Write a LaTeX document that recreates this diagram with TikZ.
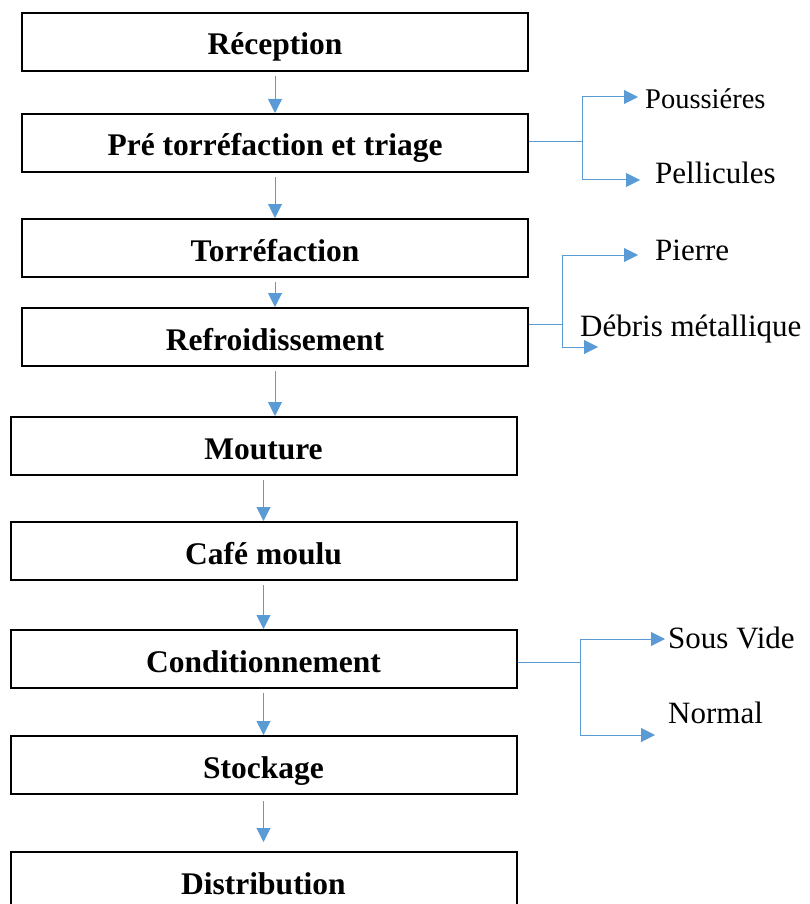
\documentclass[tikz,border=0pt]{standalone}
\usepackage{fontspec}
\setmainfont{Liberation Serif}
\usepackage{tikz}
\usetikzlibrary{arrows.meta, positioning}
\definecolor{flowBlue}{HTML}{5B9BD5}

\begin{document}
\begin{tikzpicture}[x=1pt, y=-1pt,
  stage/.style={draw=black, line width=2pt, minimum width=506pt, minimum height=58pt, inner sep=0pt,
    text height=26pt, text depth=0pt, font=\fontsize{31.5}{34}\selectfont\bfseries},
  lbl/.style={anchor=base west, inner sep=0pt, font=\fontsize{31}{34}\selectfont},
  e/.style={-{Triangle[length=14pt, width=14pt]}, flowBlue, line width=1pt},
  br/.style={flowBlue, line width=1pt}]
  \useasboundingbox (0,0) rectangle (809,904);
  \node[stage](rec) at (275,42){Réception};
  \node[stage, below=41pt of rec](pre){Pré torréfaction et triage};
  \node[stage, below=45pt of pre](tor){Torréfaction};
  \node[stage, below=29pt of tor](ref){Refroidissement};
  \node[stage, below=49pt of ref, xshift=-11.5pt](mou){Mouture};
  \node[stage, below=45pt of mou](caf){Café moulu};
  \node[stage, below=48pt of caf](con){Conditionnement};
  \node[stage, below=46pt of con](sto){Stockage};
  \node[stage, below=56pt of sto](dis){Distribution};
  \draw[e, shorten <=4pt](rec)--(pre); \draw[e, shorten <=4pt](pre)--(tor);
  \draw[e, shorten <=4pt](tor)--(ref); \draw[e, shorten <=4pt](ref.south)--(ref.south |- mou.north);
  \draw[e, shorten <=4pt](mou)--(caf); \draw[e, shorten <=4pt](caf)--(con);
  \draw[e, shorten <=4pt](con)--(sto); \draw[e, shorten <=6pt, shorten >=9pt](sto)--(dis);
  % sorties
  \node[lbl](pous) at (645,109){\fontsize{28.5}{34}\selectfont Poussiéres};
  \node[lbl](pell) at (655,183){Pellicules};
  \node[lbl](pier) at (655,260){Pierre};
  \node[lbl](deb) at (580,336){Débris métallique};
  \node[lbl](sv) at (668,648){Sous Vide};
  \node[lbl](nor) at (668,723){Normal};
  \coordinate (ja) at (582,142);
  \coordinate (ja1) at (582,97); \coordinate (ja2) at (582,180);
  \coordinate (ta1) at (638,97); \coordinate (ta2) at (640,180);
  \coordinate (jb) at (562,324);
  \coordinate (jb1) at (562,255); \coordinate (jb2) at (562,347);
  \coordinate (tb1) at (638,255); \coordinate (tb2) at (598,347);
  \coordinate (jc) at (580,662);
  \coordinate (jc1) at (580,639); \coordinate (jc2) at (580,735);
  \coordinate (tc1) at (665,639); \coordinate (tc2) at (655,735);
  \draw[br](pre.east |- ja)--(ja) (ja1)--(ja2);
  \draw[e](ja1)--(ta1); \draw[e](ja2)--(ta2);
  \draw[br](ref.east |- jb)--(jb) (jb1)--(jb2);
  \draw[e](jb1)--(tb1); \draw[e](jb2)--(tb2);
  \draw[br](con.east |- jc)--(jc) (jc1)--(jc2);
  \draw[e](jc1)--(tc1); \draw[e](jc2)--(tc2);
\end{tikzpicture}
\end{document}
